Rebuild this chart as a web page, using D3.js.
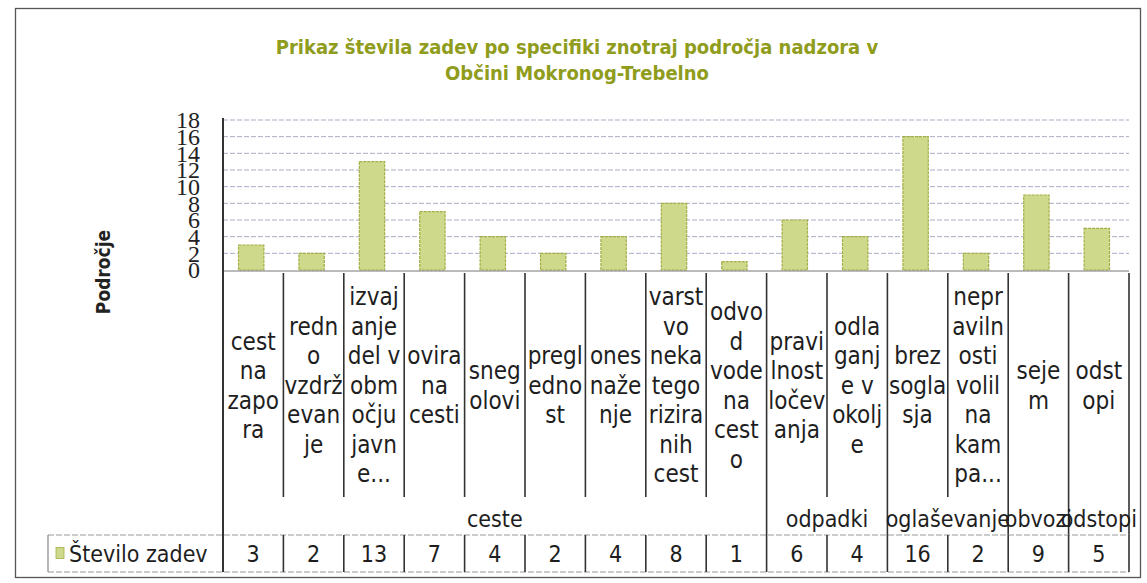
<!DOCTYPE html>
<html>
<head>
<meta charset="utf-8">
<script src="https://cdn.jsdelivr.net/npm/d3@7"></script>
<style>
  html, body { margin: 0; padding: 0; background: #fff; }
  svg { display: block; }
  .narrow { font-family: "Liberation Sans Narrow", "DejaVu Sans Condensed", "Arial Narrow", sans-serif; }
</style>
</head>
<body>
<svg id="chart" width="1147" height="583"></svg>
<script>
// ---- data ----
const titleLines = ["Prikaz števila zadev po specifiki znotraj področja nadzora v", "Občini Mokronog-Trebelno"];
const yAxisTitle = "Področje";
const seriesName = "Število zadev";
const categories = [
  "cestna zapora", "redno vzdrževanje", "izvajanje del v območju javne...", "ovira na cesti",
  "snegolovi", "preglednost", "onesnaženje", "varstvo nekategoriziranih cest",
  "odvod vode na cesto", "pravilnost ločevanja", "odlaganje v okolje", "brez soglasja",
  "nepravilnosti volilna kampa...", "sejem", "odstopi"
];
const categoryLines = [
  ["cest", "na", "zapo", "ra"],
  ["redn", "o", "vzdrž", "evan", "je"],
  ["izvaj", "anje", "del v", "obm", "očju", "javn", "e..."],
  ["ovira", "na", "cesti"],
  ["sneg", "olovi"],
  ["pregl", "edno", "st"],
  ["ones", "naže", "nje"],
  ["varst", "vo", "neka", "tego", "rizira", "nih", "cest"],
  ["odvo", "d", "vode", "na", "cest", "o"],
  ["pravi", "lnost", "ločev", "anja"],
  ["odla", "ganj", "e v", "okolj", "e"],
  ["brez", "sogla", "sja"],
  ["nepr", "aviln", "osti", "volil", "na", "kam", "pa..."],
  ["seje", "m"],
  ["odst", "opi"]
];
const values = [3, 2, 13, 7, 4, 2, 4, 8, 1, 6, 4, 16, 2, 9, 5];
const groupNames = ["ceste", "odpadki", "oglaševanje", "obvozi", "odstopi"];
const groupSizes = [9, 2, 2, 1, 1];
const yTicks = [0, 2, 4, 6, 8, 10, 12, 14, 16, 18];

// ---- layout ----
const svg = d3.select("#chart");
const plotLeft = 223, plotRight = 1129, plotTop = 120, plotBottom = 270;
const labelBottom = 497, tableTop = 535, tableBottom = 572, legendLeft = 48;
const barColor = "#cfd98b", barStroke = "#a3ad45";

const x = d3.scaleBand().domain(d3.range(categories.length)).range([plotLeft, plotRight]).paddingInner(0).paddingOuter(0);
const y = d3.scaleLinear().domain([0, 18]).range([plotBottom, plotTop]);
const bw = x.bandwidth();
const barW = bw * 0.42;
const xEdge = i => i < categories.length ? x(i) : plotRight;

// outer border
svg.append("rect").attr("x", 15.5).attr("y", 8.5).attr("width", 1125).attr("height", 569)
  .attr("fill", "none").attr("stroke", "#555").attr("stroke-width", 1.3);

// title
const title = svg.append("text").attr("class", "narrow")
  .attr("text-anchor", "middle").attr("font-weight", "bold").attr("font-size", 20)
  .attr("fill", "#8f9c1c");
titleLines.forEach((t, i) => title.append("tspan").attr("x", 577).attr("y", 54 + i * 26).text(t));

// gridlines
svg.append("g").selectAll("line").data(yTicks.slice(1)).join("line")
  .attr("x1", plotLeft).attr("x2", plotRight)
  .attr("y1", d => y(d)).attr("y2", d => y(d))
  .attr("stroke", "#a9aec4").attr("stroke-width", 1).attr("stroke-dasharray", "5,2");

// y axis tick labels
const yAxis = d3.axisLeft(y).tickValues(yTicks).tickSize(0).tickPadding(0);
const gy = svg.append("g").attr("transform", `translate(${plotLeft - 23},0)`).call(yAxis);
gy.select(".domain").remove();
gy.selectAll("text").attr("font-family", "'Liberation Serif', 'DejaVu Serif', serif")
  .attr("font-size", 24).attr("fill", "#222").attr("dy", "0.33em");

// y axis title
svg.append("text").attr("class", "narrow")
  .attr("transform", `translate(110,272) rotate(-90)`)
  .attr("text-anchor", "middle").attr("font-weight", "bold").attr("font-size", 19).attr("fill", "#222")
  .text(yAxisTitle);

// bars
svg.append("g").selectAll("rect").data(values).join("rect")
  .attr("x", (d, i) => x(i) + (bw - barW) / 2 - 2)
  .attr("y", d => y(d))
  .attr("width", barW)
  .attr("height", d => y(0) - y(d))
  .attr("fill", barColor).attr("stroke", barStroke).attr("stroke-width", 1.2).attr("stroke-dasharray", "3,1");

// baseline
svg.append("line").attr("x1", plotLeft).attr("x2", plotRight).attr("y1", plotBottom + 1).attr("y2", plotBottom + 1)
  .attr("stroke", "#777").attr("stroke-width", 1);

// left axis line (extends through label area and table)
svg.append("line").attr("x1", plotLeft).attr("x2", plotLeft).attr("y1", plotTop - 2).attr("y2", tableBottom)
  .attr("stroke", "#333").attr("stroke-width", 2);

// category dividers
svg.append("g").selectAll("line").data(d3.range(1, categories.length + 1)).join("line")
  .attr("x1", xEdge).attr("x2", xEdge)
  .attr("y1", plotBottom + 3).attr("y2", labelBottom)
  .attr("stroke", "#333").attr("stroke-width", 1.6);

// category labels (wrapped as in the reference)
const midLabel = (plotBottom + labelBottom) / 2 + 2;
const lineH = 29.5;
const catG = svg.append("g").attr("class", "narrow").attr("font-size", 24).attr("fill", "#1e1e1e").attr("text-anchor", "middle");
categoryLines.forEach((lines, i) => {
  const t = catG.append("text");
  const n = lines.length;
  lines.forEach((ln, k) => {
    t.append("tspan").attr("x", x(i) + bw / 2).attr("y", midLabel + (k - (n - 1) / 2) * lineH).attr("dy", "0.35em").text(ln);
  });
});

// group row
let start = 0;
const groupBounds = groupSizes.map((s, gi) => { const b = { name: groupNames[gi], a: start, b: start + s }; start += s; return b; });
svg.append("g").selectAll("line").data(groupBounds).join("line")
  .attr("x1", g => xEdge(g.b)).attr("x2", g => xEdge(g.b))
  .attr("y1", labelBottom).attr("y2", tableTop)
  .attr("stroke", "#333").attr("stroke-width", 1.6);
svg.append("g").attr("class", "narrow").selectAll("text").data(groupBounds).join("text")
  .attr("x", g => (x(g.a) + xEdge(g.b)) / 2)
  .attr("y", 519).attr("dy", "0.35em")
  .attr("text-anchor", "middle").attr("font-size", 23).attr("fill", "#1e1e1e")
  .text(g => g.name);

// data table
const tg = svg.append("g");
[tableTop, tableBottom].forEach(yy => tg.append("line").attr("x1", legendLeft).attr("x2", plotRight).attr("y1", yy).attr("y2", yy)
  .attr("stroke", "#999").attr("stroke-width", 1.2).attr("stroke-dasharray", "6,2"));
tg.append("line").attr("x1", legendLeft).attr("x2", legendLeft).attr("y1", tableTop).attr("y2", tableBottom).attr("stroke", "#888").attr("stroke-width", 1.2);
tg.selectAll("line.cell").data(d3.range(1, categories.length + 1)).join("line").attr("class", "cell")
  .attr("x1", xEdge).attr("x2", xEdge)
  .attr("y1", tableTop).attr("y2", tableBottom)
  .attr("stroke", "#333").attr("stroke-width", 1.6);
tg.append("g").attr("class", "narrow").selectAll("text").data(values).join("text")
  .attr("x", (d, i) => x(i) + bw / 2).attr("y", (tableTop + tableBottom) / 2).attr("dy", "0.35em")
  .attr("text-anchor", "middle").attr("font-size", 23).attr("fill", "#1e1e1e")
  .text(d => d);

// legend key in table
tg.append("rect").attr("x", legendLeft + 8).attr("y", (tableTop + tableBottom) / 2 - 6).attr("width", 8).attr("height", 11)
  .attr("fill", barColor).attr("stroke", barStroke).attr("stroke-width", 0.8);
tg.append("text").attr("class", "narrow").attr("x", legendLeft + 21).attr("y", (tableTop + tableBottom) / 2).attr("dy", "0.35em")
  .attr("font-size", 23).attr("fill", "#1e1e1e").text(seriesName);
</script>
</body>
</html>
